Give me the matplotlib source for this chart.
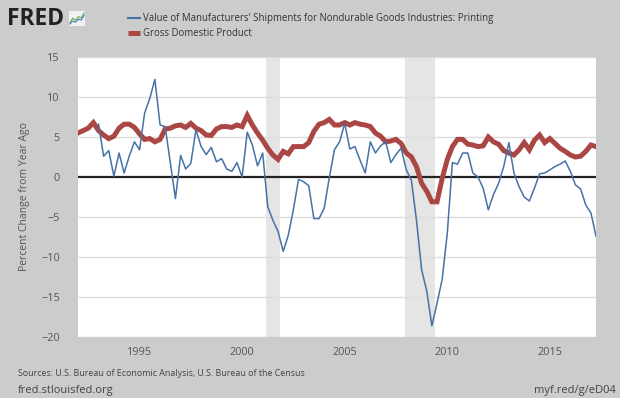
import matplotlib
matplotlib.use("Agg")
import matplotlib.pyplot as plt
import matplotlib.dates as mdates
import pandas as pd
import numpy as np

plt.rcParams['font.family'] = ['Open Sans', 'DejaVu Sans']

printing = [6.6, 2.6, 3.3, 0.1, 3.0, 0.5, 2.6, 4.4, 3.4, 8.0,
            9.8, 12.2, 6.5, 6.3, 1.8, -2.7, 2.7, 1.0, 1.7, 5.9,
            3.8, 2.8, 3.7, 1.9, 2.3, 1.0, 0.7, 1.8, 0.0, 5.6,
            4.0, 1.4, 3.0, -3.7, -5.4, -6.8, -9.3, -7.3, -4.1, -0.3,
            -0.6, -1.1, -5.2, -5.2, -3.9, -0.1, 3.4, 4.4, 6.7, 3.5,
            3.8, 2.1, 0.5, 4.4, 3.0, 3.9, 4.4, 1.8, 2.8, 3.6,
            0.9, -0.4, -5.4, -11.6, -14.3, -18.6, -15.8, -12.8, -7.0, 1.8,
            1.6, 3.0, 3.0, 0.5, 0.0, -1.4, -4.1, -2.2, -0.8, 1.3,
            4.3, 0.5, -1.2, -2.5, -3.0, -1.4, 0.4, 0.5, 0.9, 1.3,
            1.6, 2.0, 0.7, -1.0, -1.5, -3.5, -4.5, -7.4]
printing_start = '1993-01-01'

gdp = [5.5, 5.8, 6.1, 6.8, 5.8, 5.25, 4.8, 5.1, 6.1, 6.6,
       6.6, 6.2, 5.4, 4.7, 4.8, 4.4, 4.7, 6.0, 6.1, 6.4,
       6.5, 6.2, 6.7, 6.1, 5.8, 5.25, 5.2, 6.0, 6.3, 6.3,
       6.2, 6.5, 6.3, 7.7, 6.5, 5.5, 4.6, 3.6, 2.75, 2.2,
       3.2, 2.9, 3.8, 3.8, 3.8, 4.3, 5.7, 6.6, 6.8, 7.2,
       6.5, 6.5, 6.8, 6.5, 6.8, 6.6, 6.5, 6.3, 5.5, 5.1,
       4.4, 4.5, 4.7, 4.2, 3.0, 2.5, 1.3, -0.8, -1.8, -3.1,
       -3.1, -0.2, 2.2, 3.8, 4.7, 4.7, 4.1, 4.0, 3.8, 3.9,
       5.0, 4.4, 4.1, 3.3, 3.0, 2.75, 3.4, 4.3, 3.4, 4.6,
       5.25, 4.3, 4.8, 4.2, 3.6, 3.2, 2.75, 2.5, 2.6, 3.2,
       4.0, 3.8]
gdp_start = '1992-01-01'

recessions = [('2001-03-01', '2001-11-01'), ('2007-12-01', '2009-06-01')]
y_ticks = [-20, -15, -10, -5, 0, 5, 10, 15]
x_tick_years = [1995, 2000, 2005, 2010, 2015]

labels = ["Value of Manufacturers' Shipments for Nondurable Goods Industries: Printing",
          "Gross Domestic Product"]

blue = '#4572A7'
red = '#AA4643'
bg = '#cccccc'

W, H = 620, 398
fig = plt.figure(figsize=(W / 100, H / 100), dpi=100, facecolor=bg)
L, R, T, B = 78, 596, 57, 337
ax = fig.add_axes([L / W, 1 - B / H, (R - L) / W, (B - T) / H])
ax.set_facecolor('white')

x_p = pd.date_range(printing_start, periods=len(printing), freq='QS')
x_g = pd.date_range(gdp_start, periods=len(gdp), freq='QS')

for a, b in recessions:
    ax.axvspan(pd.Timestamp(a), pd.Timestamp(b), color='#e5e5e5', lw=0, zorder=0)

for yv in y_ticks:
    if yv != 0:
        ax.axhline(yv, color='#dcdcdc', lw=1.0, zorder=0.5)
ax.axhline(0, color='#222222', lw=1.6, zorder=1)

ax.plot(x_g, gdp, color=red, lw=3.6, zorder=2, solid_joinstyle='miter')
ax.plot(x_p, printing, color=blue, lw=1.1, zorder=3)

ax.set_xlim(pd.Timestamp('1992-01-01'), pd.Timestamp('2017-04-01'))
ax.set_ylim(-20, 15)
ax.set_yticks(y_ticks)
ax.set_xticks([pd.Timestamp(f'{y}-01-01') for y in x_tick_years])
ax.xaxis.set_major_formatter(mdates.DateFormatter('%Y'))
ax.tick_params(axis='both', length=0, labelsize=7.8, colors='#555555')
ax.tick_params(axis='y', pad=13)
ax.tick_params(axis='x', pad=7)
for s in ax.spines.values():
    s.set_visible(False)
ax.set_ylabel('Percent Change from Year Ago', fontsize=7.5, color='#555555', labelpad=8)

# Legend
fig.add_artist(plt.Line2D([128 / W, 140 / W], [1 - 18 / H, 1 - 18 / H], color=blue, lw=1.5))
fig.add_artist(plt.Line2D([128 / W, 140 / W], [1 - 33 / H, 1 - 33 / H], color=red, lw=3.6,
                          solid_capstyle='butt'))
fig.text(143 / W, 1 - 18 / H, labels[0], fontsize=6.9, color='#333333', va='center')
fig.text(143 / W, 1 - 33 / H, labels[1], fontsize=6.9, color='#333333', va='center')

# Logo
fig.text(7 / W, 1 - 19 / H, 'FRED', fontsize=16.5, fontweight='bold', color='#222222',
         va='center', ha='left')
iax = fig.add_axes([69 / W, 1 - 26 / H, 16 / W, 15 / H])
iax.set_facecolor('#eef2f4')
iax.plot([0, 1, 2, 3, 4, 5], [1, 2.5, 1.8, 3, 2.6, 4.2], color='#6aa84f', lw=0.8)
iax.plot([0, 1, 2, 3, 4, 5], [0.6, 1.6, 1.2, 2.2, 1.9, 3.4], color='#4a7ab5', lw=0.8)
iax.set_xlim(-0.3, 5.3)
iax.set_ylim(0, 4.8)
iax.set_xticks([])
iax.set_yticks([])
for s in iax.spines.values():
    s.set_visible(False)

# Footer
fig.text(18 / W, 1 - 374 / H, 'Sources: U.S. Bureau of Economic Analysis, U.S. Bureau of the Census',
         fontsize=6.4, color='#444444', va='center')
fig.text(18 / W, 1 - 390 / H, 'fred.stlouisfed.org', fontsize=8, color='#444444', va='center')
fig.text(616 / W, 1 - 390 / H, 'myf.red/g/eD04', fontsize=8, color='#444444', va='center', ha='right')

fig.savefig('out.png', dpi=100, facecolor=bg)
